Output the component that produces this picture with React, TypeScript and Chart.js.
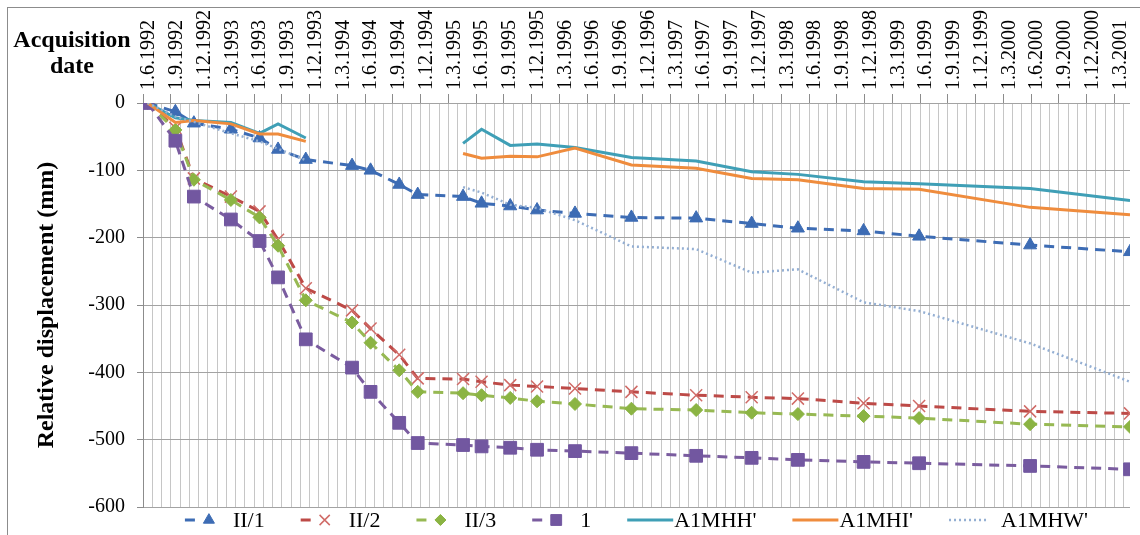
import React, { useEffect, useRef } from 'react';
import { Chart, registerables } from 'chart.js';
import { drawPoint } from 'chart.js/helpers';

Chart.register(...registerables);

// Acquisition dates (D.M.YYYY) shared by all series
const acquisitionDates = [
  '1.6.1992', '1.9.1992', '1.11.1992', '1.3.1993', '4.6.1993', '4.8.1993', '4.11.1993',
  '4.4.1994', '4.6.1994', '7.9.1994', '7.11.1994', '4.4.1995', '4.6.1995', '7.9.1995',
  '4.12.1995', '7.4.1996', '10.10.1996', '10.5.1997', '10.11.1997', '10.4.1998',
  '13.11.1998', '13.5.1999', '13.5.2000', '7.4.2001',
];

// Top axis tick labels (every 3 months)
const tickLabels = [
  '1.6.1992', '1.9.1992', '1.12.1992', '1.3.1993', '1.6.1993', '1.9.1993', '1.12.1993',
  '1.3.1994', '1.6.1994', '1.9.1994', '1.12.1994', '1.3.1995', '1.6.1995', '1.9.1995',
  '1.12.1995', '1.3.1996', '1.6.1996', '1.9.1996', '1.12.1996', '1.3.1997', '1.6.1997',
  '1.9.1997', '1.12.1997', '1.3.1998', '1.6.1998', '1.9.1998', '1.12.1998', '1.3.1999',
  '1.6.1999', '1.9.1999', '1.12.1999', '1.3.2000', '1.6.2000', '1.9.2000', '1.12.2000',
  '1.3.2001',
];

const yTicks = [0, -100, -200, -300, -400, -500, -600];

// Relative displacement (mm)
const seriesII1 = [0, -13, -30, -39, -52, -69, -84, -93, -100, -121, -136, -139, -149, -153, -159, -164, -170, -171, -179, -186, -190, -198, -211, -221];
const seriesII2 = [0, -37, -112, -139, -161, -203, -275, -308, -335, -374, -409, -410, -414, -419, -421, -424, -429, -434, -437, -439, -446, -450, -458, -461];
const seriesII3 = [0, -40, -114, -144, -170, -212, -293, -326, -356, -397, -429, -431, -434, -438, -443, -447, -454, -456, -460, -462, -465, -468, -477, -481];
const series1 = [0, -56, -139, -173, -205, -259, -351, -393, -429, -475, -505, -508, -510, -512, -515, -517, -520, -524, -527, -530, -533, -535, -539, -544];
const seriesA1MHH = [0, -22, -26, -29, -45, -31, -52, null, null, null, null, -60, -39, -63, -61, -66, -81, -86, -102, -106, -117, -120, -127, -145];
const seriesA1MHI = [0, -29, -26, -31, -46, -46, -57, null, null, null, null, -75, -82, -79, -80, -67, -92, -97, -112, -114, -127, -128, -155, -166];
const seriesA1MHW = [0, -20, -28, -45, -57, -68, -85, null, null, null, null, -125, -133, -151, -156, -174, -213, -217, -252, -247, -296, -309, -357, -414];

const X_MAX = 106.2;

// months since 1 June 1992
function monthOf(d: string): number {
  const [day, month, year] = d.split('.').map(Number);
  return (year - 1992) * 12 + (month - 6) + (day - 1) / 30;
}

const xs = acquisitionDates.map(monthOf);
const toPoints = (vals: (number | null)[]) => xs.map((x, i) => ({ x, y: vals[i] }));

const SERIF = '"Liberation Serif", "Times New Roman", serif';

function dashed(label: string, vals: (number | null)[], color: string, style: string, radius: number, markerFill: string, markerBorder: string, markerBorderWidth: number, order: number) {
  return {
    label,
    data: toPoints(vals),
    borderColor: color,
    backgroundColor: markerFill,
    borderWidth: 3,
    borderDash: [10, 7],
    pointStyle: style,
    pointRadius: radius,
    pointBackgroundColor: markerFill,
    pointBorderColor: markerBorder,
    pointBorderWidth: markerBorderWidth,
    tension: 0,
    order,
  };
}

function plain(label: string, vals: (number | null)[], color: string, width: number, dash: number[], order: number) {
  return {
    label,
    data: toPoints(vals),
    borderColor: color,
    backgroundColor: color,
    borderWidth: width,
    borderDash: dash,
    pointRadius: 0,
    pointStyle: false as any,
    tension: 0,
    order,
  };
}

const legendAndFrame = {
  id: 'legendAndFrame',
  beforeDraw(chart: any) {
    const ctx = chart.ctx;
    ctx.save();
    ctx.fillStyle = '#ffffff';
    ctx.fillRect(0, 0, chart.width, chart.height);
    ctx.strokeStyle = '#8c8c8c';
    ctx.lineWidth = 1;
    ctx.strokeRect(7.5, 7.5, chart.width + 20, chart.height + 20);
    ctx.restore();
  },
  afterDraw(chart: any) {
    const ctx = chart.ctx;
    ctx.save();
    // Axis caption
    ctx.fillStyle = '#000';
    ctx.font = `bold 24px ${SERIF}`;
    ctx.textAlign = 'center';
    ctx.textBaseline = 'alphabetic';
    ctx.fillText('Acquisition', 72, 47);
    ctx.fillText('date', 72, 73);

    // Legend
    ctx.font = `22px ${SERIF}`;
    const gap = 36;
    const items = chart.data.datasets.map((ds: any) => {
      const marker = ds.pointRadius > 0;
      const dotted = !marker && ds.borderDash && ds.borderDash.length > 0;
      const sample = marker ? 48 : dotted ? 52 : 47;
      const tw = ctx.measureText(ds.label).width;
      return { ds, marker, dotted, sample, tw };
    });
    const total = items.reduce((s: number, it: any) => s + it.sample + it.tw, 0) + gap * (items.length - 1);
    const area = chart.chartArea;
    let x = (area.left + area.right) / 2 - total / 2;
    const y = 520;
    for (const it of items) {
      const ds = it.ds;
      ctx.strokeStyle = ds.borderColor;
      ctx.lineWidth = ds.borderWidth;
      ctx.lineCap = 'butt';
      if (it.marker) {
        ctx.setLineDash([]);
        ctx.beginPath();
        ctx.moveTo(x, y);
        ctx.lineTo(x + 10, y);
        ctx.stroke();
        ctx.fillStyle = ds.pointBackgroundColor;
        ctx.strokeStyle = ds.pointBorderColor;
        ctx.lineWidth = ds.pointBorderWidth;
        drawPoint(ctx, { pointStyle: ds.pointStyle, rotation: 0, radius: ds.pointRadius * 0.85, borderWidth: ds.pointBorderWidth } as any, x + 24, y);
      } else {
        ctx.setLineDash(it.dotted ? ds.borderDash : []);
        ctx.beginPath();
        ctx.moveTo(x, y);
        ctx.lineTo(x + (it.dotted ? 40 : 46), y);
        ctx.stroke();
        ctx.setLineDash([]);
      }
      ctx.fillStyle = '#000';
      ctx.textAlign = 'left';
      ctx.textBaseline = 'middle';
      ctx.fillText(ds.label, x + it.sample, y + 1);
      x += it.sample + it.tw + gap;
    }
    ctx.restore();
  },
};

export default function App() {
  const canvasRef = useRef<HTMLCanvasElement>(null);

  useEffect(() => {
    document.body.style.margin = '0';
    const canvas = canvasRef.current;
    if (!canvas) return;

    const datasets = [
      dashed('II/1', seriesII1, '#3d6cb4', 'triangle', 7.5, '#3d6cb4', '#3d6cb4', 1, 7),
      dashed('II/2', seriesII2, '#bd4a47', 'crossRot', 8.5, '#d06b67', '#d06b67', 1.5, 6),
      dashed('II/3', seriesII3, '#97b953', 'rectRot', 6.5, '#8bb443', '#8bb443', 1, 5),
      dashed('1', series1, '#7a5c9f', 'rect', 9, '#7257a0', '#7257a0', 1, 4),
      plain("A1MHH'", seriesA1MHH, '#3f9fb6', 3, [], 3),
      plain("A1MHI'", seriesA1MHI, '#ef8c3d', 3, [], 2),
      plain("A1MHW'", seriesA1MHW, '#94afd3', 2.5, [2, 3], 1),
    ];

    const chart = new Chart(canvas, {
      type: 'line',
      data: { datasets: datasets as any },
      plugins: [legendAndFrame],
      options: {
        responsive: false,
        animation: false,
        devicePixelRatio: 1,
        layout: { padding: { left: 8, top: 8, right: 0, bottom: 28 } },
        plugins: { legend: { display: false }, tooltip: { enabled: false } },
        scales: {
          x: {
            type: 'linear',
            position: 'bottom',
            min: -0.5,
            max: X_MAX,
            afterBuildTicks: (scale: any) => {
              const t = [];
              for (let v = -0.5; v <= X_MAX; v += 1) t.push({ value: v });
              scale.ticks = t;
            },
            afterFit: (scale: any) => { scale.height = 0; },
            ticks: { display: false },
            grid: { color: '#c6c6c6', lineWidth: 1, drawTicks: false },
            border: { display: false },
          },
          xTop: {
            type: 'linear',
            position: 'top',
            min: -0.5,
            max: X_MAX,
            afterBuildTicks: (scale: any) => {
              scale.ticks = tickLabels.map((l) => ({ value: monthOf(l) - 0.5 }));
            },
            afterFit: (scale: any) => { scale.height = 95; },
            ticks: {
              autoSkip: false,
              minRotation: 90,
              maxRotation: 90,
              padding: 4,
              labelOffset: 30,
              color: '#000',
              font: { family: SERIF, size: 20 },
              callback: (_v: any, i: number) => tickLabels[i],
            },
            grid: { drawOnChartArea: false, drawTicks: true, tickLength: 9, color: '#8c8c8c' },
            border: { display: false },
          },
          y: {
            type: 'linear',
            min: -600,
            max: 0,
            afterBuildTicks: (scale: any) => {
              scale.ticks = yTicks.map((v) => ({ value: v }));
            },
            afterFit: (scale: any) => { scale.width = 135; },
            ticks: {
              padding: 12,
              color: '#000',
              font: { family: SERIF, size: 20 },
            },
            grid: { color: '#a3a3a3', tickLength: 6, tickColor: '#8c8c8c' },
            border: { display: true, color: '#8c8c8c' },
            title: {
              display: true,
              text: 'Relative displacement (mm)',
              color: '#000',
              font: { family: SERIF, size: 24, weight: 'bold' },
              padding: { top: 24, bottom: 0 },
            },
          },
        },
      } as any,
    });

    return () => chart.destroy();
  }, []);

  return (
    <div style={{ width: 1140, height: 535 }}>
      <canvas ref={canvasRef} width={1140} height={535} style={{ display: 'block' }} />
    </div>
  );
}
